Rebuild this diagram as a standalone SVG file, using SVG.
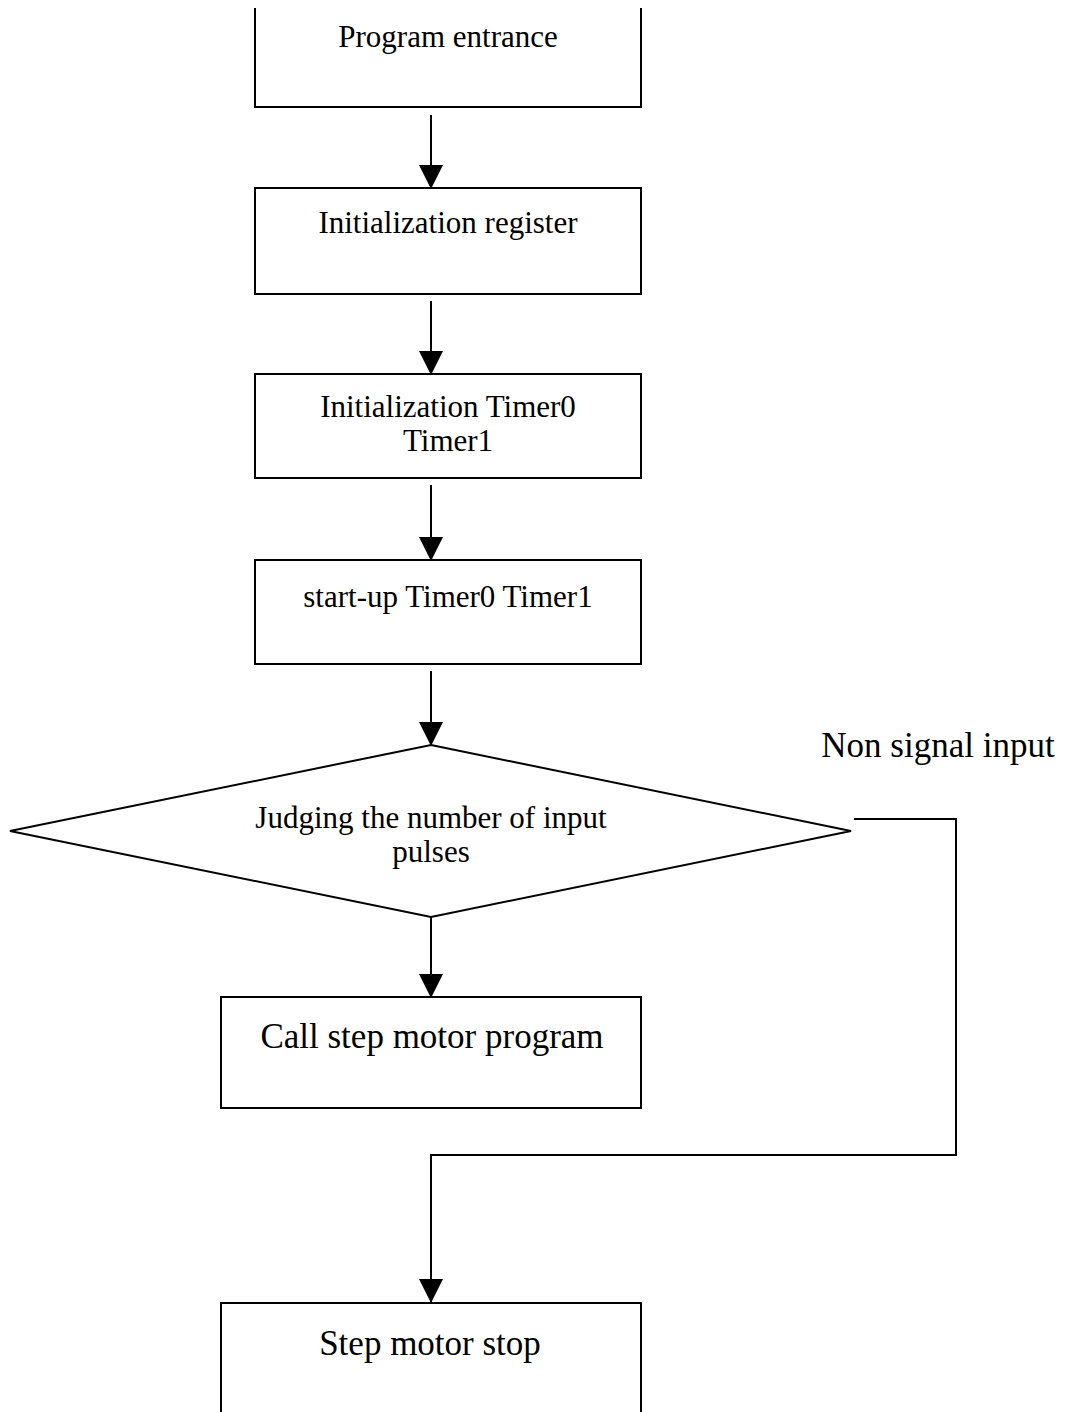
<svg xmlns="http://www.w3.org/2000/svg" width="1066" height="1412" viewBox="0 0 1066 1412">
<style>
.box{fill:#fff;stroke:#000;stroke-width:2}
.ln{fill:none;stroke:#000;stroke-width:2}
text{font-family:"Liberation Serif","Times New Roman",serif;fill:#000;text-anchor:middle}
.t{font-size:31px}
.tl{font-size:35px}
</style>
<defs>
<marker id="ah" markerUnits="userSpaceOnUse" markerWidth="24" markerHeight="26" refX="23" refY="12" orient="auto">
<path d="M0,0 L24,12 L0,24 Z" fill="#000"/>
</marker>
</defs>
<rect width="1066" height="1412" fill="#fff"/>
<g id="connectors">
<line class="ln" x1="431" y1="115" x2="431" y2="188" marker-end="url(#ah)"/>
<line class="ln" x1="431" y1="301" x2="431" y2="374" marker-end="url(#ah)"/>
<line class="ln" x1="431" y1="485" x2="431" y2="560" marker-end="url(#ah)"/>
<line class="ln" x1="431" y1="671" x2="431" y2="745" marker-end="url(#ah)"/>
<line class="ln" x1="431" y1="917" x2="431" y2="997" marker-end="url(#ah)"/>
<path class="ln" d="M854,819 H956 V1155 H431 V1302" marker-end="url(#ah)"/>
<text class="tl" x="938" y="757">Non signal input</text>
</g>
<g id="n1">
<path class="box" d="M255,8 V107 H641 V8"/>
<text class="t" x="448" y="47">Program entrance</text>
</g>
<g id="n2">
<rect class="box" x="255" y="188" width="386" height="106"/>
<text class="t" x="448" y="233">Initialization register</text>
</g>
<g id="n3">
<rect class="box" x="255" y="374" width="386" height="104"/>
<text class="t" x="448" y="417">Initialization Timer0</text>
<text class="t" x="448" y="451">Timer1</text>
</g>
<g id="n4">
<rect class="box" x="255" y="560" width="386" height="104"/>
<text class="t" x="448" y="607">start-up Timer0 Timer1</text>
</g>
<g id="n5">
<polygon class="box" points="431,745 851,831 431,917 10,831"/>
<text class="t" x="431" y="828">Judging the number of input</text>
<text class="t" x="431" y="862">pulses</text>
</g>
<g id="n6">
<rect class="box" x="221" y="997" width="420" height="111"/>
<text class="tl" x="432" y="1048">Call step motor program</text>
</g>
<g id="n7">
<path class="box" d="M221,1412 V1303 H641 V1412"/>
<text class="tl" x="430" y="1355">Step motor stop</text>
</g>
</svg>
